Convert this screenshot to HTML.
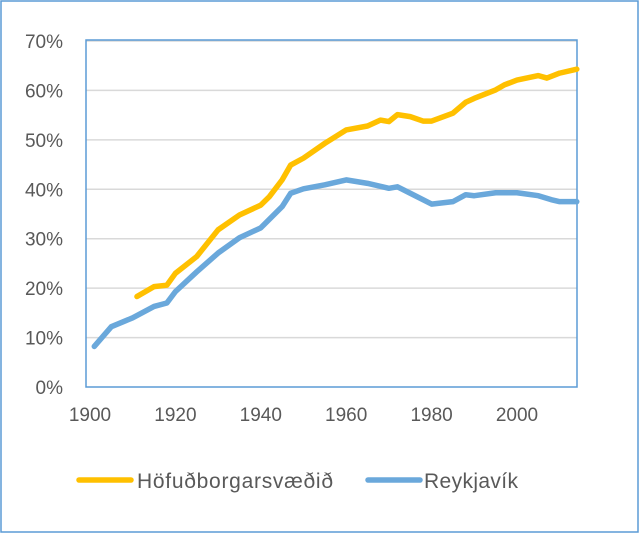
<!DOCTYPE html>
<html><head><meta charset="utf-8"><style>
body{margin:0;background:#fff;}
svg{display:block;font-family:"Liberation Sans",sans-serif;}
</style></head><body>
<svg width="641" height="535">
<rect x="1" y="1" width="637" height="531" fill="#fff" stroke="#5b9bd5" stroke-width="1.5"/>
<g id="grid"></g>
<g id="yt"></g>
<g id="xt"></g>
<rect x="86" y="40" width="491" height="347" fill="none" stroke="#5b9bd5" stroke-width="1.5"/>
<g id="series"></g>
<g>
<line x1="79" y1="480" x2="131" y2="480" stroke="#ffc000" stroke-width="5.5" stroke-linecap="round"/>
<text x="137" y="488" font-size="21" fill="#595959" textLength="196">Höfuðborgarsvæðið</text>
<line x1="368" y1="480" x2="420" y2="480" stroke="#6aa8db" stroke-width="5.5" stroke-linecap="round"/>
<text x="424" y="488" font-size="21" fill="#595959" textLength="94">Reykjavík</text>
</g>
</svg>
<script>
const yTicks=[0,10,20,30,40,50,60,70];
const xTicks=[1900,1920,1940,1960,1980,2000];
const capYears=[1911,1915,1918,1920,1925,1930,1935,1940,1942,1945,1947,1950,1955,1960,1965,1968,1970,1972,1975,1978,1980,1985,1988,1990,1995,1997,2000,2005,2007,2010,2014];
const capValues=[18.3,20.3,20.6,23.0,26.4,31.8,34.8,36.8,38.5,41.9,44.9,46.3,49.3,52.0,52.8,54.0,53.7,55.1,54.7,53.8,53.8,55.4,57.6,58.4,60.1,61.1,62.1,63.0,62.5,63.5,64.3];
const rvkYears=[1901,1905,1910,1915,1918,1920,1925,1930,1935,1940,1945,1947,1950,1955,1960,1965,1970,1972,1975,1980,1985,1988,1990,1995,2000,2005,2008,2010,2014];
const rvkValues=[8.2,12.2,14.0,16.3,17.0,19.3,23.3,27.1,30.2,32.2,36.5,39.2,40.1,40.9,41.9,41.2,40.2,40.5,39.2,37.0,37.5,38.9,38.7,39.3,39.3,38.7,37.9,37.5,37.5];
const NS="http://www.w3.org/2000/svg";
const xS=y=>90+(y-1900)*4.27;
const yS=v=>387-v*4.943;
const grid=document.getElementById('grid'),yt=document.getElementById('yt'),xt=document.getElementById('xt'),ser=document.getElementById('series');
yTicks.forEach(t=>{
 if(t>0){const l=document.createElementNS(NS,'line');
 
 
 l.setAttribute('x1',86);l.setAttribute('x2',577);l.setAttribute('y1',yS(t));l.setAttribute('y2',yS(t));
 l.setAttribute('stroke','#d9d9d9');l.setAttribute('stroke-width','1.5');grid.appendChild(l);}
 const tx=document.createElementNS(NS,'text');
 
 
 tx.setAttribute('x',63);tx.setAttribute('y',yS(t)+7);tx.setAttribute('text-anchor','end');
 tx.setAttribute('font-size','19');tx.setAttribute('fill','#595959');tx.textContent=t+'%';yt.appendChild(tx);
});
xTicks.forEach(t=>{
 const tx=document.createElementNS(NS,'text');
 
 
 tx.setAttribute('x',xS(t));tx.setAttribute('y',421);tx.setAttribute('text-anchor','middle');
 tx.setAttribute('font-size','19');tx.setAttribute('fill','#595959');tx.textContent=t;xt.appendChild(tx);
});
function line(xs,vs,color,name){
 const p=document.createElementNS(NS,'polyline');
 
 
 p.setAttribute('points',xs.map((y,i)=>xS(y)+','+yS(vs[i])).join(' '));
 p.setAttribute('fill','none');p.setAttribute('stroke',color);p.setAttribute('stroke-width','5.5');
 p.setAttribute('stroke-linejoin','round');p.setAttribute('stroke-linecap','round');ser.appendChild(p);
}
line(capYears,capValues,'#ffc000','line-hofudborgarsvaedid');
line(rvkYears,rvkValues,'#6aa8db','line-reykjavik');
</script>
</body></html>
